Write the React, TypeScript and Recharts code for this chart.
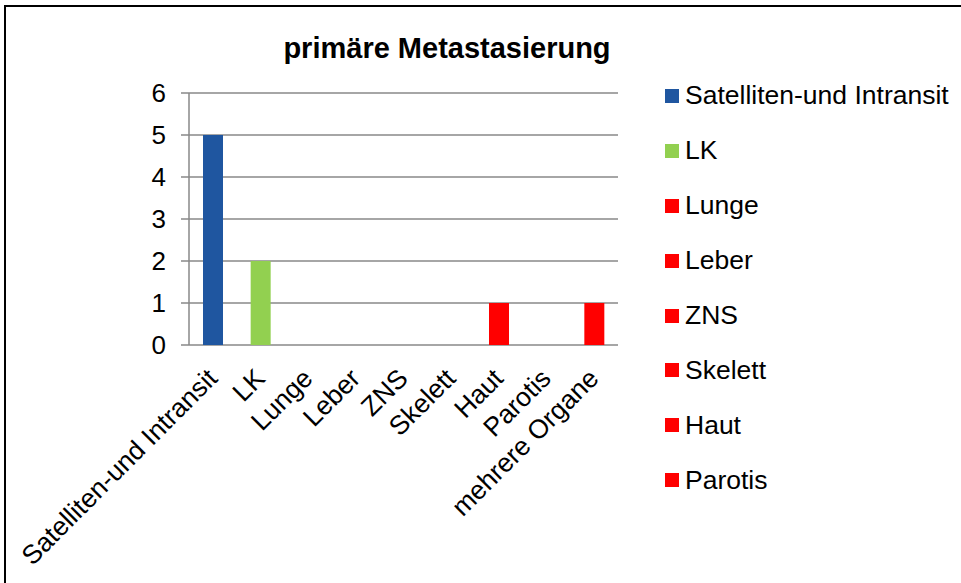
import { BarChart, Bar, Cell, XAxis, YAxis, CartesianGrid, Legend } from "recharts";

const categories = [
  "Satelliten-und Intransit",
  "LK",
  "Lunge",
  "Leber",
  "ZNS",
  "Skelett",
  "Haut",
  "Parotis",
  "mehrere Organe",
];
const counts = [5, 2, 0, 0, 0, 0, 1, 0, 1];
const colors = [
  "#1F56A0",
  "#92D050",
  "#FF0000",
  "#FF0000",
  "#FF0000",
  "#FF0000",
  "#FF0000",
  "#FF0000",
  "#FF0000",
];
// the legend in the original only lists the first eight points
const legendItems = categories.slice(0, 8);
const yTicks = [0, 1, 2, 3, 4, 5, 6];
const boundaryTicks = [0, 1, 2, 3, 4, 5, 6, 7, 8, 9];

const data = categories.map((name, i) => ({ name, value: counts[i] }));

const FONT = "'Liberation Sans', Arial, sans-serif";
const GRID = "#898989";

function AngledTick(props: any) {
  const { x, y, payload } = props;
  const ax = x + 6;
  const ay = y + 35;
  return (
    <text
      x={ax}
      y={ay}
      textAnchor="end"
      fontSize={26.5}
      fill="#000"
      fontFamily={FONT}
      transform={`rotate(-45, ${ax}, ${ay})`}
    >
      {payload.value}
    </text>
  );
}

function PointLegend() {
  return (
    <div style={{ fontFamily: FONT, fontSize: 26.5, color: "#000" }}>
      {legendItems.map((name, i) => (
        <div key={name} style={{ height: 54.9, display: "flex", alignItems: "center", whiteSpace: "nowrap" }}>
          <span style={{ width: 14, height: 14, background: colors[i], marginRight: 6, flex: "none" }} />
          {name}
        </div>
      ))}
    </div>
  );
}

export default function App() {
  return (
    <div style={{ position: "absolute", left: 0, top: 0, width: 961, height: 583, background: "#fff", overflow: "hidden", fontFamily: FONT }}>
      <div
        style={{
          position: "absolute",
          left: 4,
          top: 5,
          width: 1000,
          height: 700,
          borderTop: "2px solid #000",
          borderLeft: "2px solid #000",
        }}
      />
      <div
        style={{
          position: "absolute",
          left: 0,
          top: 33.5,
          width: 894,
          textAlign: "center",
          fontSize: 29,
          lineHeight: "29px",
          fontWeight: "bold",
          color: "#000",
        }}
      >
        primäre Metastasierung
      </div>
      <BarChart width={961} height={583} data={data} margin={{ top: 93, right: 343, bottom: 0, left: 0 }}>
        <CartesianGrid xAxisId="cat" vertical={false} stroke={GRID} strokeWidth={1.5} />
        <XAxis
          xAxisId="ticks"
          type="number"
          domain={[0, 9]}
          ticks={boundaryTicks}
          height={0}
          tick={false}
          tickSize={8}
          stroke={GRID}
          strokeWidth={1.5}
        />
        <XAxis
          xAxisId="cat"
          dataKey="name"
          height={238}
          interval={0}
          axisLine={false}
          tickLine={false}
          tickSize={0}
          tickMargin={0}
          tick={<AngledTick />}
        />
        <YAxis
          domain={[0, 6]}
          ticks={yTicks}
          width={189}
          tickSize={8}
          tickMargin={15}
          stroke={GRID}
          strokeWidth={1.5}
          tick={{ fill: "#000", fontSize: 26 }}
        />
        <Legend
          layout="vertical"
          align="center"
          verticalAlign="middle"
          content={() => <PointLegend />}
          wrapperStyle={{ left: 665, top: 68.5, width: 295 }}
        />
        <Bar xAxisId="cat" dataKey="value" barSize={20} isAnimationActive={false}>
          {data.map((d, i) => (
            <Cell key={d.name} fill={colors[i]} />
          ))}
        </Bar>
      </BarChart>
    </div>
  );
}
